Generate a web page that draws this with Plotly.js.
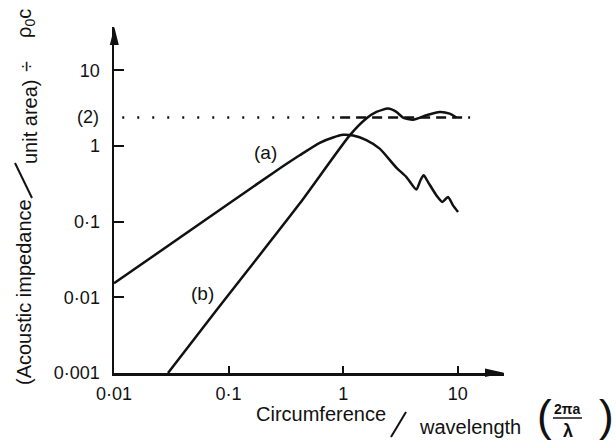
<!DOCTYPE html>
<html>
<head>
<meta charset="utf-8">
<script src="https://cdn.plot.ly/plotly-3.0.1.min.js"></script>
<style>html,body{margin:0;padding:0;background:#fff;}#chart{width:616px;height:441px;}</style>
</head>
<body>
<div id="chart"></div>
<script>
// Curve (a)
const aX = [0.01, 0.1, 0.25, 0.417, 0.624, 0.815, 0.995, 1.22, 1.59, 2.08, 2.91, 3.56, 4.35, 4.72, 5.04, 5.50, 6.51, 7.34, 8.21, 9.08, 10.05];
const aY = [0.0153, 0.172, 0.45, 0.752, 1.10, 1.29, 1.40, 1.37, 1.19, 0.92, 0.516, 0.388, 0.265, 0.352, 0.409, 0.333, 0.222, 0.182, 0.211, 0.164, 0.134];
// Curve (b)
const bX = [0.0296, 0.0783, 0.417, 1.14, 1.59, 1.95, 2.46, 2.91, 3.33, 4.06, 5.32, 6.95, 8.49, 9.73];
const bY = [0.001, 0.00673, 0.173, 1.38, 2.30, 2.81, 3.11, 2.81, 2.37, 2.22, 2.54, 2.81, 2.67, 2.37];
// Asymptote (2)
const asymY = 2.37;
const dotX = [0.0118, 0.94];
const dashX = [0.94, 12.8];
// Ticks
const xTickVals = [0.01, 0.1, 1, 10];
const xTickText = ['0·01', '0·1', '1', '10'];
const yTickVals = [0.001, 0.01, 0.1, 1, 10];
const yTickText = ['0·001', '0·01', '0·1', '1', '10'];

const FONT = 'Liberation Sans, Arial, sans-serif';
const L = 114, R = 112, T = 27, B = 68, W = 616, H = 441;
const PW = W - L - R, PH = H - T - B;
const px = x => (x - L) / PW;      // pixel -> paper x
const py = y => (H - B - y) / PH;  // pixel -> paper y

const line = {color: '#111', width: 2.5};
const traces = [
  {x: aX, y: aY, mode: 'lines', line: Object.assign({shape: 'spline', smoothing: 0.6}, line), hoverinfo: 'skip'},
  {x: bX, y: bY, mode: 'lines', line: Object.assign({shape: 'spline', smoothing: 0.6}, line), hoverinfo: 'skip'},
  {x: dotX, y: [asymY, asymY], mode: 'lines', line: {color: '#111', width: 2.5, dash: '2px,13px'}, hoverinfo: 'skip'},
  {x: dashX, y: [asymY, asymY], mode: 'lines', line: {color: '#111', width: 2.5, dash: '10px,6px'}, hoverinfo: 'skip'}
];

const ann = (text, x, y, size, extra) => Object.assign({
  text: text, xref: 'paper', yref: 'paper', x: px(x), y: py(y),
  showarrow: false, xanchor: 'center', yanchor: 'middle',
  font: {family: FONT, size: size, color: '#111'}
}, extra || {});

const annotations = [
  ann('(a)', 265, 152, 19),
  ann('(b)', 202, 293, 19),
  ann('(2)', 101, 117, 18, {xanchor: 'right'}),
  // y title pieces
  ann('(Acoustic impedance', 24, 292, 20, {textangle: -90}),
  ann('unit area)', 30, 122, 20, {textangle: -90}),
  ann('÷', 26, 67, 20, {textangle: -90}),
  ann('ρ<sub>0</sub>c', 25, 24, 20, {textangle: -90}),
  // x title pieces
  ann('Circumference', 321, 414, 20),
  ann('wavelength', 470, 427, 20),
  ann('(', 544, 416, 44),
  ann(')', 606, 416, 44),
  ann('<b>2πa</b>', 567, 409, 14),
  ann('<b>λ</b>', 568, 431, 18)
];

const shapes = [
  // arrow heads
  {type: 'path', xref: 'paper', yref: 'paper', path: `M ${px(114.3)},${py(27)} L ${px(109.8)},${py(45)} L ${px(118.8)},${py(45)} Z`, fillcolor: '#111', line: {width: 0}},
  {type: 'path', xref: 'paper', yref: 'paper', path: `M ${px(504)},${py(372.7)} L ${px(485)},${py(368.4)} L ${px(485)},${py(377)} Z`, fillcolor: '#111', line: {width: 0}},
  // slashes
  {type: 'line', xref: 'paper', yref: 'paper', x0: px(32), y0: py(198), x1: px(15), y1: py(163), line: {color: '#111', width: 2}},
  {type: 'line', xref: 'paper', yref: 'paper', x0: px(391), y0: py(437), x1: px(406), y1: py(412), line: {color: '#111', width: 2}},
  // fraction bar
  {type: 'line', xref: 'paper', yref: 'paper', x0: px(553), y0: py(418), x1: px(582), y1: py(418), line: {color: '#111', width: 1.5}}
];

const layout = {
  width: W, height: H,
  margin: {l: L, r: R, t: T, b: B, pad: 0},
  paper_bgcolor: '#fff', plot_bgcolor: '#fff',
  showlegend: false,
  font: {family: FONT, size: 18, color: '#111'},
  xaxis: {
    type: 'log', range: [-2, 1.403],
    showgrid: false, zeroline: false, showline: true, linecolor: '#111', linewidth: 2.5,
    ticks: 'inside', ticklen: 7, tickwidth: 2, tickcolor: '#111',
    tickvals: xTickVals, ticktext: xTickText, ticklabelstandoff: 3,
    tickfont: {family: FONT, size: 18, color: '#111'}
  },
  yaxis: {
    type: 'log', range: [-3, 1.571],
    showgrid: false, zeroline: false, showline: true, linecolor: '#111', linewidth: 2.5,
    ticks: 'inside', ticklen: 10, tickwidth: 2, tickcolor: '#111',
    tickvals: yTickVals, ticktext: yTickText, ticklabelstandoff: 8,
    tickfont: {family: FONT, size: 18, color: '#111'}
  },
  annotations: annotations,
  shapes: shapes
};

Plotly.newPlot('chart', traces, layout, {staticPlot: true, displayModeBar: false});
</script>
</body>
</html>
